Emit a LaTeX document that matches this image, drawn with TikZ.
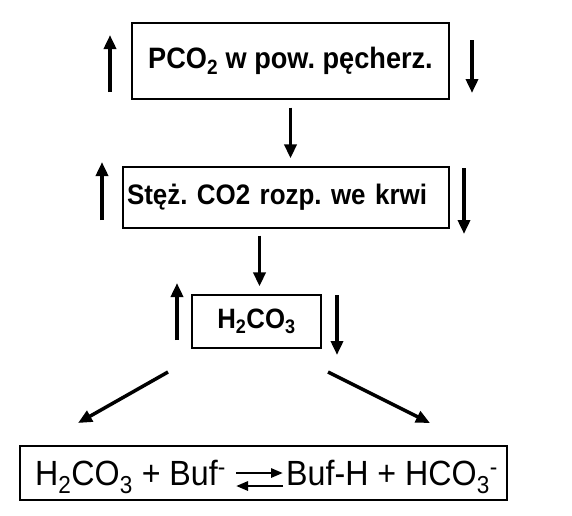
\documentclass[tikz,border=0pt]{standalone}
\usepackage{fontspec}
\setmainfont[FakeStretch=0.92]{Liberation Sans}
\usetikzlibrary{arrows.meta,positioning}

\begin{document}
\frenchspacing
\begin{tikzpicture}[x=1pt, y=-1pt,
    box/.style = {draw, line width=1.2pt, inner sep=0pt,
                  font=\fontsize{29.5}{32}\selectfont\bfseries},
    txt/.style = {inner sep=0pt, font=\fontsize{35}{38}\selectfont},
    arr/.style = {-{Triangle[width=12pt,length=14pt]}, line width=3.5pt},
    eq/.style  = {-{Triangle[width=9pt,length=12pt]}, line width=2.8pt},
  ]
    \useasboundingbox (0,0) rectangle (572,515);

    % boxes
    \node[box, minimum width=317pt, minimum height=76pt] (pco) at (290.5,61)
      {PCO\textsubscript{2} w pow. pęcherz.};
    \node[box, minimum width=326pt, minimum height=61pt, text width=318pt,
          align=left, font=\fontsize{28.2}{31}\selectfont\bfseries] (stez) at (286,197.5)
      {Stęż. CO2 rozp. we krwi};
    \node[box, minimum width=129pt, minimum height=53pt,
          font=\fontsize{28}{31}\selectfont\bfseries] (hco) at (256.5,321.5)
      {H\textsubscript{2}CO\textsubscript{3}};
    \node[draw, line width=1.2pt, minimum width=487pt, minimum height=54pt] (buf) at (263.5,473) {};
    \node[txt, anchor=base west] (lhs) at (35,485) {H\textsubscript{2}CO\textsubscript{3} + Buf\textsuperscript{-}};
    \node[txt, anchor=base east] (rhs) at (498,485) {Buf-H + HCO\textsubscript{3}\textsuperscript{-}};

    % side arrows
    \coordinate (pcoUa) at (110,92);  \coordinate (pcoUb) at (110,35);
    \coordinate (pcoDa) at (472,40);  \coordinate (pcoDb) at (472,93);
    \coordinate (stezUa) at (102,220); \coordinate (stezUb) at (102,162);
    \coordinate (stezDa) at (464,168); \coordinate (stezDb) at (464,234);
    \coordinate (hcoUa) at (177,340); \coordinate (hcoUb) at (177,283);
    \coordinate (hcoDa) at (337,295); \coordinate (hcoDb) at (337,355);
    \draw[arr] (pcoUa) -- (pcoUb);
    \draw[arr] (pcoDa) -- (pcoDb);
    \draw[arr] (stezUa) -- (stezUb);
    \draw[arr] (stezDa) -- (stezDb);
    \draw[arr] (hcoUa) -- (hcoUb);
    \draw[arr] (hcoDa) -- (hcoDb);

    % flow
    \draw[arr, shorten <=8pt, shorten >=8pt] (pco) -- (pco |- stez.north);
    \draw[arr, shorten <=7pt, shorten >=8pt] ([xshift=3pt]stez.south -| hco) -- ([xshift=3pt]hco.north);
    \coordinate (splitL) at (168,372); \coordinate (tipL) at (78,423);
    \coordinate (splitR) at (328,372); \coordinate (tipR) at (430,423);
    \draw[arr] (splitL) -- (tipL);
    \draw[arr] (splitR) -- (tipR);

    % equilibrium
    \coordinate (fwdA) at (236,473); \coordinate (fwdB) at (283,473);
    \coordinate (bwdA) at (283,486); \coordinate (bwdB) at (236,486);
    \draw[eq] (fwdA) -- (fwdB);
    \draw[eq] (bwdA) -- (bwdB);
  \end{tikzpicture}
\end{document}
